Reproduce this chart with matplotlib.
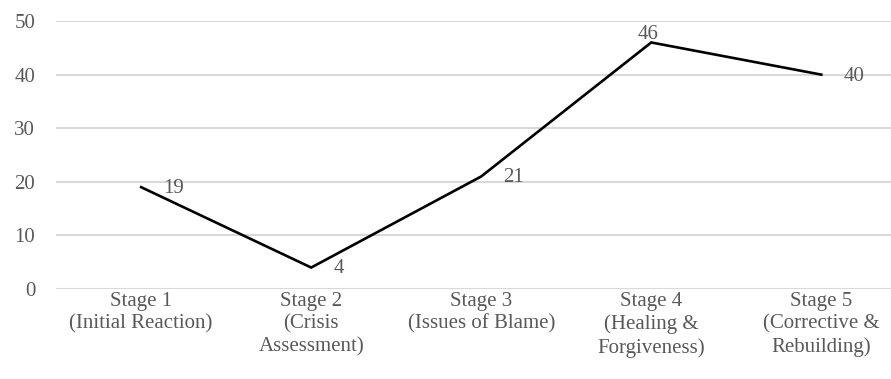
import matplotlib.pyplot as plt

stages = ['Stage 1\n(Initial Reaction)', 'Stage 2\n(Crisis\nAssessment)', 'Stage 3\n(Issues of Blame)',
          'Stage 4\n(Healing &\nForgiveness)', 'Stage 5\n(Corrective &\nRebuilding)']
values = [19, 4, 21, 46, 40]

plt.rcParams['font.family'] = ['Liberation Serif', 'DejaVu Serif']
gray = '#595959'

fig = plt.figure(figsize=(8.91, 3.79), dpi=100)
ax = fig.add_axes([0.063, 0.2375, 0.937, 0.707])

x = list(range(len(values)))
ax.plot(x, values, color='black', linewidth=1.9, solid_joinstyle='miter', zorder=3)

# data labels, mostly to the right of each point
for i, v in enumerate(values):
    if v == max(values):
        ax.annotate(str(v), (i, v), xytext=(-2, -1), textcoords='offset points',
                    ha='center', va='bottom', fontsize=15, color=gray)
    else:
        ax.annotate(str(v), (i, v), xytext=(16, -1), textcoords='offset points',
                    ha='left', va='center', fontsize=15, color=gray)

ax.set_ylim(0, 50)
ax.set_yticks(range(0, 51, 10))
ax.set_xlim(-0.5, 4.41)
ax.set_xticks(x)
ax.set_xticklabels(stages, fontsize=15, color=gray, linespacing=1.25)
ax.tick_params(axis='y', labelsize=15, labelcolor=gray, length=0, pad=15)
ax.tick_params(axis='x', length=0, pad=2)
ax.grid(axis='y', color='#d9d9d9', linewidth=1.5)
ax.set_axisbelow(True)
for s in ax.spines.values():
    s.set_visible(False)

fig.savefig('out.png', dpi=100)
